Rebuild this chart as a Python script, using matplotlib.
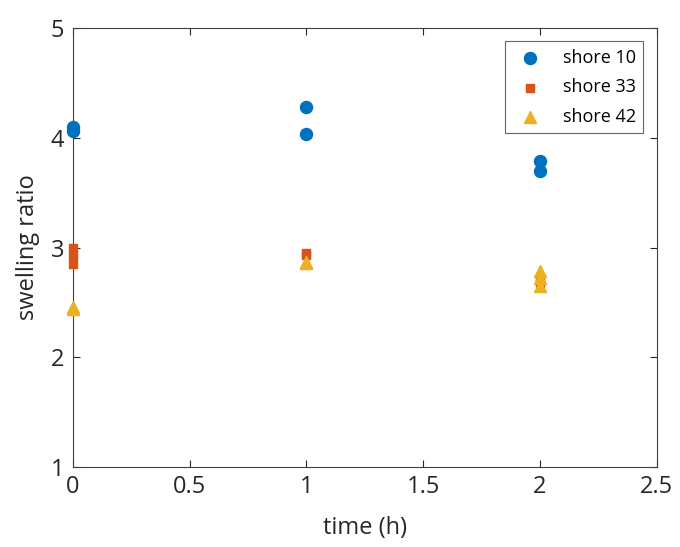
import matplotlib
matplotlib.use("Agg")
import matplotlib.pyplot as plt

plt.rcParams['font.family'] = ['Open Sans', 'DejaVu Sans']

# time (h) and swelling ratio per shore hardness
t10 = [0, 0, 1, 1, 2, 2]
s10 = [4.10, 4.06, 4.28, 4.03, 3.79, 3.70]
t33 = [0, 0, 0, 1, 1, 2, 2]
s33 = [3.00, 2.91, 2.85, 2.95, 2.93, 2.72, 2.68]
t42 = [0, 0, 1, 1, 2, 2, 2]
s42 = [2.44, 2.46, 2.86, 2.87, 2.79, 2.72, 2.65]

fig = plt.figure(figsize=(6.8, 5.47), dpi=100)
ax = fig.add_axes([0.107, 0.146, 0.859, 0.803])
ax.scatter(t10, s10, marker='o', s=75, color='#0072BD', label='shore 10', zorder=3, clip_on=False)
ax.scatter(t33, s33, marker='s', s=28, color='#D95319', label='shore 33', zorder=3, clip_on=False)
ax.scatter(t42, s42, marker='^', s=75, color='#EDB120', label='shore 42', zorder=4, clip_on=False)

ax.set_xlim(0, 2.5)
ax.set_ylim(1, 5)
ax.set_xticks([0, 0.5, 1, 1.5, 2, 2.5])
ax.set_xticklabels(['0', '0.5', '1', '1.5', '2', '2.5'])
ax.set_yticks([1, 2, 3, 4, 5])
ax.tick_params(direction='in', top=True, right=True, labelsize=17, length=5, pad=6,
               colors='#262626')
for sp in ax.spines.values():
    sp.set_color('#404040')
    sp.set_linewidth(0.8)
ax.set_xlabel('time (h)', fontsize=17, color='#262626', labelpad=12)
ax.set_ylabel('swelling ratio', fontsize=17, color='#262626', labelpad=8)
leg = ax.legend(loc='upper right', fontsize=13, fancybox=False, edgecolor='#404040',
                borderaxespad=0.75, handletextpad=0.8, labelspacing=0.65)
leg.get_frame().set_linewidth(0.8)

fig.savefig('out.png', dpi=100)
